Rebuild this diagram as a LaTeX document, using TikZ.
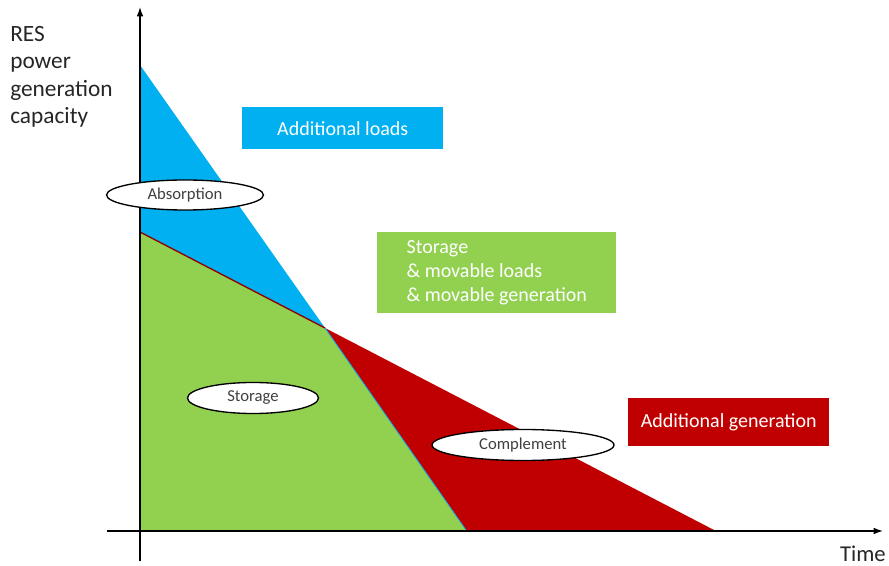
\documentclass[tikz,border=0pt]{standalone}
\usepackage{fontspec}
\setmainfont{Carlito}
\usetikzlibrary{shapes.geometric,arrows.meta}
\definecolor{resblue}{RGB}{0,176,240}
\definecolor{resgreen}{RGB}{146,208,80}
\definecolor{resred}{RGB}{192,0,0}
\definecolor{txtgray}{RGB}{64,64,64}

\begin{document}
\begin{tikzpicture}[x=0.75pt,y=-0.75pt,
    zone/.style={draw=black, line width=1pt, fill=white, ellipse, inner sep=0pt,
        font=\fontsize{12.5}{15}\selectfont, text=txtgray},
    legend/.style={anchor=north west, inner sep=0pt, text=white,
        font=\fontsize{15}{18}\selectfont}]
    \useasboundingbox (0,0) rectangle (889,566);
    % corners of the areas
    \coordinate (blueTop) at (140,65);
    \coordinate (greenTop) at (140,232);
    \coordinate (cross) at (325,328);
    \coordinate (greenEnd) at (466,530);
    \coordinate (redEnd) at (714,530);
    \coordinate (origin) at (140,530);
    \fill[resblue] (blueTop) -- (cross) -- (greenTop) -- cycle;
    \fill[resgreen] (greenTop) -- (cross) -- (greenEnd) -- (origin) -- cycle;
    \fill[resred] (cross) -- (redEnd) -- (greenEnd) -- cycle;
    \draw[resred!75!black, line width=1pt] (greenTop) -- (cross);
    \draw[resblue, line width=0.6pt] (cross) -- (greenEnd);
    % axes
    \coordinate (yFoot) at (140,561);
    \coordinate (yHead) at (140,7);
    \coordinate (xFoot) at (107,531);
    \coordinate (xHead) at (883,531);
    \draw[line width=1pt, -{Latex[length=7pt,width=5pt]}] (yFoot) -- (yHead);
    \draw[line width=1pt, -{Latex[length=7pt,width=5pt]}] (xFoot) -- (xHead);
    \node[anchor=north west, align=left, inner sep=0pt, text=black!85,
        font=\fontsize{17.5}{20.5}\selectfont] (ylabel) at (10,26)
        {RES\\power\\generation\\capacity};
    \node[anchor=base east, inner sep=0pt, text=black!85,
        font=\fontsize{17}{20}\selectfont] (xlabel) at (886,561) {Time};
    % legend boxes
    \node[legend, fill=resblue, minimum width=150.75pt, minimum height=31.5pt]
        (loads) at (242,107) {Additional loads};
    \node[legend, fill=resgreen, minimum width=179.25pt, minimum height=60.75pt, align=left]
        (movable) at (377,232) {Storage\\\& movable loads\\\& movable generation};
    \node[legend, fill=resred, minimum width=150.75pt, minimum height=36pt]
        (generation) at (628,398) {Additional generation};
    % zone labels
    \node[zone, minimum width=117.75pt, minimum height=22.5pt] (absorption) at (185,195) {Absorption};
    \node[zone, minimum width=98.25pt, minimum height=23.25pt] (storage) at (253,398) {Storage};
    \node[zone, minimum width=136.5pt, minimum height=23.25pt] (complement) at (523,445) {Complement};
\end{tikzpicture}
\end{document}
